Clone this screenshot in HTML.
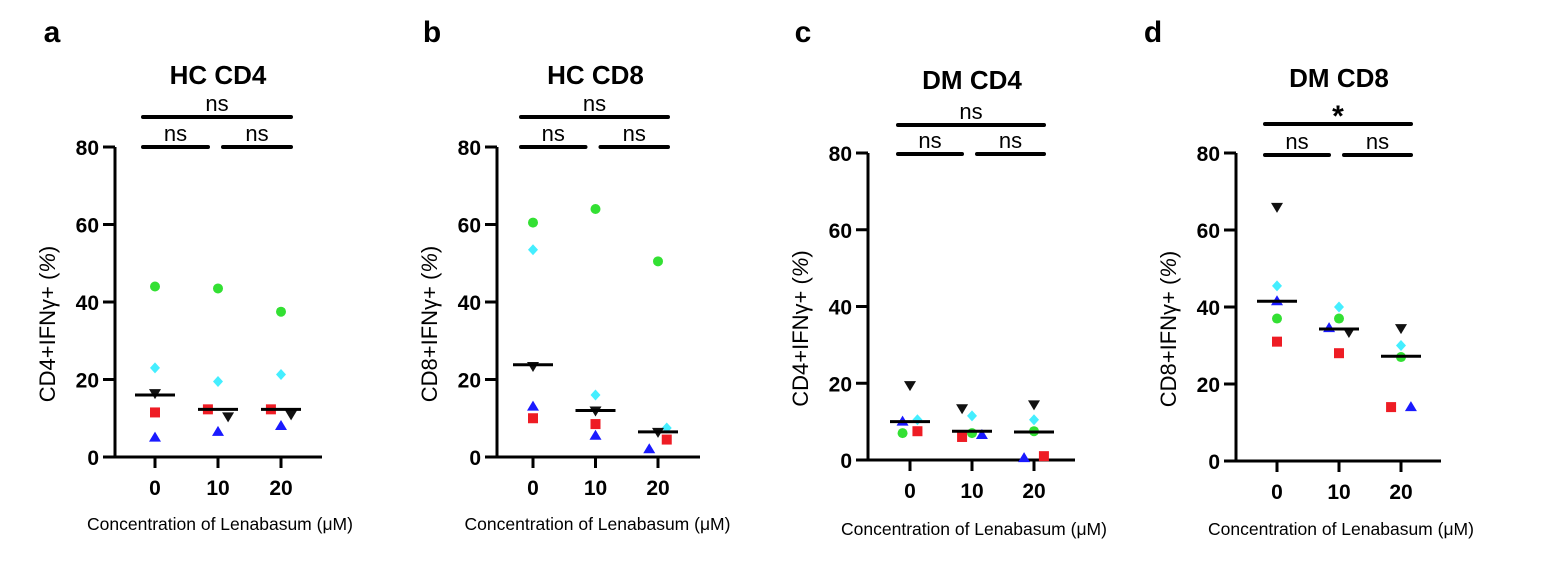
<!DOCTYPE html>
<html><head><meta charset="utf-8"><style>
html,body{margin:0;padding:0;background:#fff;width:1544px;height:566px;overflow:hidden}
svg{display:block;font-family:"Liberation Sans",Arial,sans-serif}
</style></head><body>
<svg id="fig" width="1544" height="566"></svg>
<script>
const categories = ["0","10","20"];
const yTicks = [0,20,40,60,80];
const colors = ["#33e033","#44eeff","#111111","#ee1c24","#1a1aff"];
const shapes = ["circle","diamond","tridown","square","triup"];
// values per subject (green, cyan, black, red, blue) per concentration
const aValues = [[44,23,16.5,11.5,5],[43.5,19.5,10.5,12.3,6.5],[37.5,21.3,11,12.3,8]];
const aMeans = [16,12.3,12.3];
const bValues = [[60.5,53.5,23.5,10,13],[64,16,12,8.5,5.5],[50.5,7.5,6.5,4.5,2]];
const bMeans = [23.8,12,6.5];
const cValues = [[7,10.5,19.5,7.5,10],[7,11.5,13.5,6,6.5],[7.5,10.5,14.5,1,0.5]];
const cMeans = [10,7.5,7.3];
const dValues = [[37,45.5,66,31,41.5],[37,40,33.5,28,34.5],[27,30,34.5,14,14]];
const dMeans = [41.5,34.3,27.2];
const aJit=[[0,0,0,0,0],[0,0,0.4,-0.4,0],[0,0,0.4,-0.4,0]];
const bJit=[[0,0,0,0,0],[0,0,0,0,0],[0,0.35,0,0.35,-0.35]];
const cJit=[[-0.3,0.3,0,0.3,-0.3],[0,0,-0.4,-0.4,0.4],[0,0,0,0.4,-0.4]];
const dJit=[[0,0,0,0,0],[0,0,0.4,0,-0.4],[0,0,0,-0.4,0.4]];

const panels = [
 {letter:"a",lx:52,ly:42,title:"HC CD4",ty:84,ax:115,y0:457,y80:147,x0:155,dx:63,xr:322,yl:"CD4+IFNγ+",vals:aValues,means:aMeans,jit:aJit,top:"ns",topY:117,lowY:147,xlY:530},
 {letter:"b",lx:432,ly:42,title:"HC CD8",ty:84,ax:497,y0:457,y80:147,x0:533,dx:62.5,xr:700,yl:"CD8+IFNγ+",vals:bValues,means:bMeans,jit:bJit,top:"ns",topY:117,lowY:147,xlY:530},
 {letter:"c",lx:803,ly:42,title:"DM CD4",ty:89,ax:868,y0:460,y80:153,x0:910,dx:62,xr:1075,yl:"CD4+IFNγ+",vals:cValues,means:cMeans,jit:cJit,top:"ns",topY:125,lowY:154,xlY:535},
 {letter:"d",lx:1153,ly:42,title:"DM CD8",ty:87,ax:1236,y0:461,y80:153,x0:1277,dx:62,xr:1441,yl:"CD8+IFNγ+",vals:dValues,means:dMeans,jit:dJit,top:"*",topY:124,lowY:155,xlY:535}
];
const NS="http://www.w3.org/2000/svg";
const svg=document.getElementById("fig");
function mk(tag,attrs,parent){const e=document.createElementNS(NS,tag);for(const k in attrs)e.setAttribute(k,attrs[k]);(parent||svg).appendChild(e);return e;}
function txt(s,attrs,parent){const e=mk("text",attrs,parent);e.textContent=s;return e;}
panels.forEach((p,pi)=>{
 const g=mk("g",{});
 
 
 const ys=v=>p.y0-(v/80)*(p.y0-p.y80);
 const xs=(i,j)=>p.x0+(i+j)*p.dx;
 let t=txt(p.letter,{x:p.lx,y:p.ly,"font-size":30,"font-weight":"bold","text-anchor":"middle"},g);
 
 
 t=txt(p.title,{x:p.x0+p.dx,y:p.ty,"font-size":26,"font-weight":"bold","text-anchor":"middle"},g);
 
 
 let l=mk("line",{x1:p.ax,y1:p.y80,x2:p.ax,y2:p.y0+1.5,stroke:"#000","stroke-width":3},g);
 
 
 l=mk("line",{x1:p.ax-12,y1:p.y0,x2:p.xr,y2:p.y0,stroke:"#000","stroke-width":3},g);
 
 
 yTicks.forEach(v=>{
  mk("line",{x1:p.ax-12,y1:ys(v),x2:p.ax,y2:ys(v),stroke:"#000","stroke-width":3},g);
  const tt=txt(String(v),{x:p.ax-16,y:ys(v)+8,"font-size":21,"font-weight":"bold","text-anchor":"end"},g);
  
  
 });
 categories.forEach((c,i)=>{
  mk("line",{x1:xs(i,0),y1:p.y0,x2:xs(i,0),y2:p.y0+11,stroke:"#000","stroke-width":3},g);
  const tt=txt(c,{x:xs(i,0),y:p.y0+38,"font-size":21,"font-weight":"bold","text-anchor":"middle"},g);
  
  
 });
 t=txt("Concentration of Lenabasum (μM)",{x:p.x0+p.dx+2,y:p.xlY,"font-size":17.5,"text-anchor":"middle"},g);
 
 
 const yc=(p.y0+p.y80)/2+22;
 t=txt("",{x:0,y:0,"font-size":22,"text-anchor":"middle",transform:`translate(${p.ax-60},${yc}) rotate(-90)`},g);
 t.innerHTML=p.yl+" (<tspan font-style='italic'>%</tspan>)";
 
 
 const lx0=xs(0,0)-12, lx2=xs(2,0)+10;
 mk("line",{x1:lx0,y1:p.topY,x2:lx2,y2:p.topY,stroke:"#000","stroke-width":4,"stroke-linecap":"round"},g);
 t=txt(p.top,{x:(lx0+lx2)/2,y:p.topY-(p.top=="*"?-2:6),"font-size":p.top=="*"?30:22,"font-weight":p.top=="*"?"bold":"normal","text-anchor":"middle"},g);
 
 
 [[lx0,xs(1,0)-10],[xs(1,0)+5,lx2]].forEach(([a,b])=>{
  mk("line",{x1:a,y1:p.lowY,x2:b,y2:p.lowY,stroke:"#000","stroke-width":4,"stroke-linecap":"round"},g);
  const s=txt("ns",{x:(a+b)/2,y:p.lowY-6,"font-size":22,"text-anchor":"middle"},g);
  
  
 });
 p.vals.forEach((row,i)=>{
  row.forEach((v,k)=>{
   const x=xs(i,p.jit[i][k]*0.4), y=ys(v), c=colors[k];
   let m;
   if(shapes[k]=="circle") m=mk("circle",{cx:x,cy:y,r:5,fill:c},g);
   else if(shapes[k]=="square") m=mk("rect",{x:x-5,y:y-5,width:10,height:10,fill:c},g);
   else if(shapes[k]=="diamond") m=mk("polygon",{points:`${x},${y-5.5} ${x+5},${y} ${x},${y+5.5} ${x-5},${y}`,fill:c},g);
   else if(shapes[k]=="triup") m=mk("polygon",{points:`${x},${y-6} ${x+6},${y+4} ${x-6},${y+4}`,fill:c},g);
   else m=mk("polygon",{points:`${x},${y+6} ${x+6},${y-4} ${x-6},${y-4}`,fill:c},g);
   
   
  });
  const ml=mk("line",{x1:xs(i,0)-20,y1:ys(p.means[i]),x2:xs(i,0)+20,y2:ys(p.means[i]),stroke:"#000","stroke-width":3},g);
  
  
 });
});
</script>
</body></html>
